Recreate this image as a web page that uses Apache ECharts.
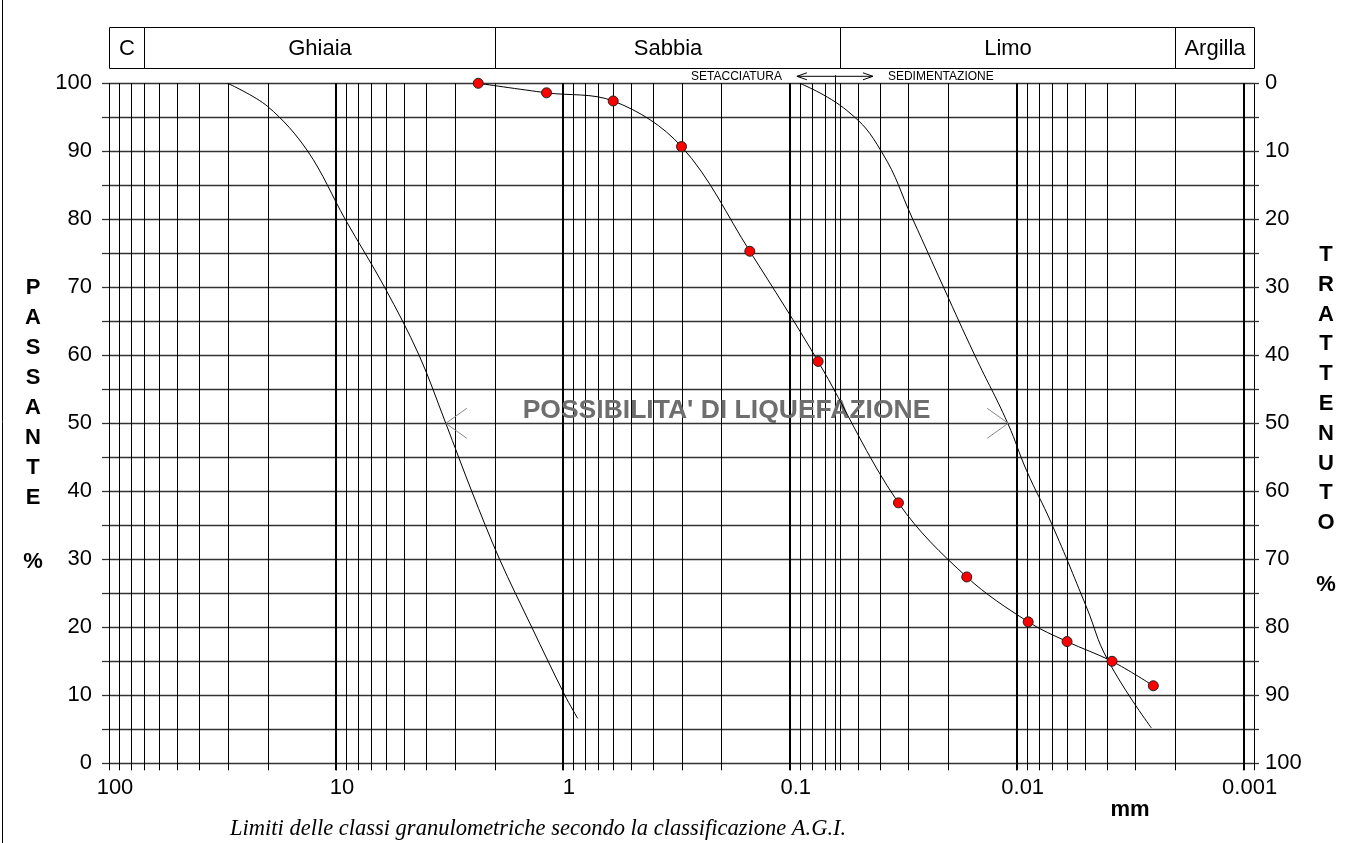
<!DOCTYPE html>
<html><head><meta charset="utf-8">
<script src="https://cdn.jsdelivr.net/npm/echarts@6/dist/echarts.min.js"></script>
<style>html,body{margin:0;padding:0;background:#fff}#c{width:1356px;height:843px}</style>
</head><body><div id="c"></div>
<script>
// ---- data ----
const sampleSizes = [2.36, 1.18, 0.6, 0.3, 0.15, 0.075, 0.0332, 0.0166, 0.0089, 0.0060, 0.0038, 0.0025];
const samplePassing = [100, 98.6, 97.4, 90.7, 75.3, 59.1, 38.3, 27.4, 20.8, 17.9, 15.0, 11.4];

const coarseLimitSizes = [30, 20, 13.3, 9.1, 6.1, 4.3, 3.28, 2.52, 1.9, 1.37, 0.98, 0.86];
const coarseLimitPassing = [100, 96.6, 90, 80, 70, 60, 50, 40, 30, 20, 10, 6.6];
const fineLimitSizes = [0.0903, 0.0560, 0.0395, 0.0287, 0.0210, 0.0153, 0.01095, 0.00906, 0.00703, 0.00493, 0.00397, 0.00255];
const fineLimitPassing = [100, 96.0, 90, 80, 70, 60, 50, 43.1, 35.3, 23.0, 15.2, 5.2];

const classNames = ['C', 'Ghiaia', 'Sabbia', 'Limo', 'Argilla'];
const classBounds = [100, 70, 2, 0.06, 0.002, 0.0009];

const xTickValues = [100, 10, 1, 0.1, 0.01, 0.001];
const xTickLabels = ['100', '10', '1', '0.1', '0.01', '0.001'];
const majorLineValues = [10, 1, 0.1, 0.01, 0.001];
const minorMultipliers = [2, 3, 4, 5, 6, 7, 8, 9];
const minorDecades = [0.001, 0.01, 0.1, 1, 10];
const methodBoundary = 0.063;
const methodArrowEnds = [0.093, 0.043];
const methodLabels = ['SETACCIATURA', 'SEDIMENTAZIONE'];
const liquefactionLabel = "POSSIBILITA' DI LIQUEFAZIONE";
const liquefactionLabelAt = [0.19, 51.9];
const liquefactionArrowSizes = [3.28, 0.0109];
const liquefactionArrowPassing = 50;

const xMin = 0.0009, xMax = 100;
const FONT = '"Liberation Sans", Arial, Helvetica, sans-serif';

// grid line list: [size, kind]  kind 0 = minor, 1 = method boundary (extended up), 2 = decade
const gridLines = [];
minorDecades.forEach(d => minorMultipliers.forEach(m => gridLines.push([+(d * m).toPrecision(3), 0])));
gridLines.push([methodBoundary, 1]);
majorLineValues.forEach(v => gridLines.push([v, 2]));

function crisp(x) { return Math.round(x) + 0.5; }

const chart = echarts.init(document.getElementById('c'), null, {renderer: 'canvas'});

const option = {
  animation: false,
  backgroundColor: '#fff',
  grid: {left: 109, right: 102, top: 83.3, bottom: 79.7, containLabel: false},
  xAxis: {
    type: 'log', logBase: 10, inverse: true, min: xMin, max: xMax, splitNumber: 5,
    axisLine: {show: false},
    axisTick: {show: true, length: 7, lineStyle: {color: '#000', width: 1}},
    splitLine: {show: false},
    axisLabel: {
      fontFamily: FONT, fontSize: 22, color: '#000', margin: 14, padding: [0, 0, 0, 12],
      showMinLabel: true, showMaxLabel: true,
      formatter: function (v) {
        for (let i = 0; i < xTickValues.length; i++) {
          if (Math.abs(Math.log10(v) - Math.log10(xTickValues[i])) < 1e-6) return xTickLabels[i];
        }
        return '';
      }
    }
  },
  yAxis: [
    {
      type: 'value', min: 0, max: 100, interval: 5, position: 'left',
      axisLine: {show: true, lineStyle: {color: '#000', width: 1}},
      axisTick: {show: true, length: 7, lineStyle: {color: '#333', width: 1.3}},
      splitLine: {show: true, lineStyle: {color: '#333', width: 1.3}},
      axisLabel: {fontFamily: FONT, fontSize: 22, color: '#000', margin: 17,
        formatter: v => (v % 10 === 0 ? String(v) : '')}
    },
    {
      type: 'value', min: 0, max: 100, interval: 5, position: 'right', inverse: true,
      axisLine: {show: true, lineStyle: {color: '#000', width: 1}},
      axisTick: {show: true, length: 5, lineStyle: {color: '#333', width: 1.3}},
      splitLine: {show: false},
      axisLabel: {fontFamily: FONT, fontSize: 22, color: '#000', margin: 11,
        formatter: v => (v % 10 === 0 ? String(v) : '')}
    }
  ],
  series: [
    {
      type: 'custom', name: 'gridLines', z: 1, silent: true, clip: false,
      data: gridLines,
      renderItem: function (params, api) {
        const v = api.value(0);
        const kind = api.value(1);
        const ext = kind === 1 ? 8 : 0;
        const top = api.coord([v, 100]);
        const bot = api.coord([v, 0]);
        const x = kind === 2 ? Math.round(top[0]) : crisp(top[0]);
        return {type: 'line', shape: {x1: x, y1: top[1] - ext, x2: x, y2: bot[1] + 7},
          style: {stroke: '#000', lineWidth: kind === 2 ? 2 : 1}};
      }
    },
    {
      type: 'custom', name: 'classes', z: 5, silent: true, clip: false,
      data: classNames.map((n, i) => [classBounds[i], classBounds[i + 1]]),
      renderItem: function (params, api) {
        const a = api.coord([api.value(0), 100]);
        const b = api.coord([api.value(1), 100]);
        const top = Math.round(a[1] - 56) + 0.5, h = 41;
        const x1 = crisp(a[0]), x2 = crisp(b[0]);
        return {type: 'group', children: [
          {type: 'rect', shape: {x: x1, y: top, width: x2 - x1, height: h},
            style: {fill: '#fff', stroke: '#000', lineWidth: 1}},
          {type: 'text', x: (x1 + x2) / 2, y: top + h / 2 + 1,
            style: {text: classNames[params.dataIndex], font: '22px ' + FONT, fill: '#000',
              align: 'center', verticalAlign: 'middle'}}
        ]};
      }
    },
    {
      type: 'custom', name: 'method', z: 5, silent: true, clip: false,
      data: [[methodArrowEnds[0], methodArrowEnds[1]]],
      renderItem: function (params, api) {
        const l = api.coord([api.value(0), 100]);
        const r = api.coord([api.value(1), 100]);
        const y = l[1] - 7;
        const st = {stroke: '#000', lineWidth: 1, fill: null};
        return {type: 'group', children: [
          {type: 'line', shape: {x1: l[0], y1: y, x2: r[0], y2: y}, style: st},
          {type: 'polyline', shape: {points: [[l[0] + 10, y - 3.5], [l[0], y], [l[0] + 10, y + 3.5]]}, style: st},
          {type: 'polyline', shape: {points: [[r[0] - 10, y - 3.5], [r[0], y], [r[0] - 10, y + 3.5]]}, style: st},
          {type: 'text', x: l[0] - 15, y: y, style: {text: methodLabels[0], font: '12px ' + FONT,
            fill: '#000', align: 'right', verticalAlign: 'middle'}},
          {type: 'text', x: r[0] + 15, y: y, style: {text: methodLabels[1], font: '12px ' + FONT,
            fill: '#000', align: 'left', verticalAlign: 'middle'}}
        ]};
      }
    },
    {
      type: 'line', name: 'coarseLimit', z: 3, silent: true, smooth: 0.35, showSymbol: false, symbol: 'none',
      lineStyle: {color: '#000', width: 1},
      data: coarseLimitSizes.map((s, i) => [s, coarseLimitPassing[i]])
    },
    {
      type: 'line', name: 'fineLimit', z: 3, silent: true, smooth: 0.45, showSymbol: false, symbol: 'none',
      lineStyle: {color: '#000', width: 1},
      data: fineLimitSizes.map((s, i) => [s, fineLimitPassing[i]])
    },
    {
      type: 'custom', name: 'liquefaction', z: 6, silent: true, clip: false,
      data: [[liquefactionArrowSizes[0], liquefactionArrowSizes[1]]],
      renderItem: function (params, api) {
        const l = api.coord([api.value(0), liquefactionArrowPassing]);
        const r = api.coord([api.value(1), liquefactionArrowPassing]);
        const c = api.coord(liquefactionLabelAt);
        const st = {stroke: '#888', lineWidth: 1, fill: null};
        return {type: 'group', children: [
          {type: 'polyline', shape: {points: [[l[0] + 21, l[1] - 15], [l[0], l[1]], [l[0] + 21, l[1] + 15]]}, style: st},
          {type: 'polyline', shape: {points: [[r[0] - 21, r[1] - 15], [r[0], r[1]], [r[0] - 21, r[1] + 15]]}, style: st},
          {type: 'text', x: c[0], y: c[1], style: {text: liquefactionLabel, font: 'bold 26.5px ' + FONT,
            fill: '#6e6e6e', align: 'center', verticalAlign: 'middle'}}
        ]};
      }
    },
    {
      type: 'line', name: 'sample', z: 8, silent: true, smooth: 0.35,
      symbol: 'circle', symbolSize: 10, showSymbol: true,
      lineStyle: {color: '#000', width: 1},
      itemStyle: {color: '#ff0000', borderColor: '#222', borderWidth: 1},
      data: sampleSizes.map((s, i) => [s, samplePassing[i]])
    }
  ],
  graphic: [
    {type: 'line', shape: {x1: 2.5, y1: 0, x2: 2.5, y2: 843}, style: {stroke: '#000', lineWidth: 1}},
    {type: 'text', x: 33, y: 273, style: {text: 'P\nA\nS\nS\nA\nN\nT\nE', font: 'bold 22px ' + FONT,
      lineHeight: 30, fill: '#000', align: 'center', verticalAlign: 'top'}},
    {type: 'text', x: 33, y: 562, style: {text: '%', font: 'bold 22px ' + FONT, fill: '#000',
      align: 'center', verticalAlign: 'middle'}},
    {type: 'text', x: 1326, y: 240, style: {text: 'T\nR\nA\nT\nT\nE\nN\nU\nT\nO', font: 'bold 22px ' + FONT,
      lineHeight: 29.8, fill: '#000', align: 'center', verticalAlign: 'top'}},
    {type: 'text', x: 1326, y: 585, style: {text: '%', font: 'bold 22px ' + FONT, fill: '#000',
      align: 'center', verticalAlign: 'middle'}},
    {type: 'text', x: 1130, y: 810, style: {text: 'mm', font: 'bold 22px ' + FONT, fill: '#000',
      align: 'center', verticalAlign: 'middle'}},
    {type: 'text', x: 230, y: 829, style: {text: 'Limiti delle classi granulometriche secondo la classificazione A.G.I.',
      font: 'italic 22.5px "Liberation Serif", "Times New Roman", serif', fill: '#000', align: 'left', verticalAlign: 'middle'}}
  ]
};
chart.setOption(option);
</script></body></html>
